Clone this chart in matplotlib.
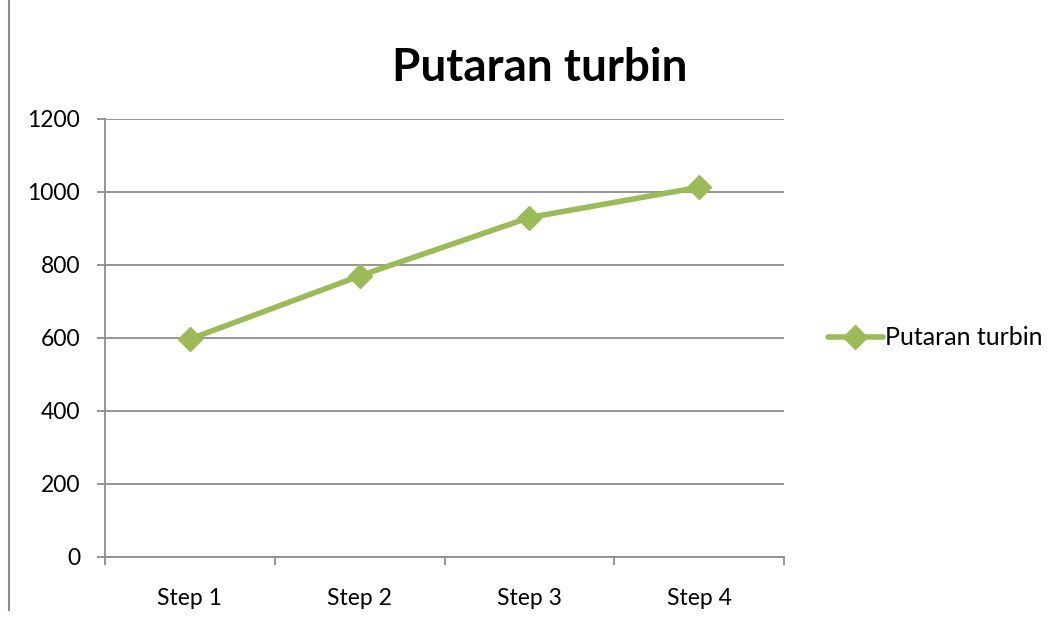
import matplotlib.pyplot as plt
from matplotlib.lines import Line2D

steps = ['Step 1', 'Step 2', 'Step 3', 'Step 4']
putaran = [597, 770, 930, 1013]
yticks = [0, 200, 400, 600, 800, 1000, 1200]

green = '#9BBB59'
grey = '#8c8c8c'

plt.rcParams['font.family'] = ['Lato', 'DejaVu Sans']

fig = plt.figure(figsize=(10.6, 6.21), dpi=100)
ax = fig.add_axes([0.0991, 0.1031, 0.6405, 0.7053])

x = list(range(len(steps)))
ax.plot(x, putaran, color=green, lw=4, marker='D', ms=12,
        label='Putaran turbin', solid_capstyle='round')

ax.set_xlim(-0.5, len(steps) - 0.5)
ax.set_ylim(0, 1200)
ax.set_yticks(yticks)
ax.set_yticklabels([str(v) for v in yticks], fontsize=16.5)
ax.set_xticks(x)
ax.set_xticklabels(steps, fontsize=16.5)
ax.set_xticks([i - 0.5 for i in range(len(steps) + 1)], minor=True)

ax.tick_params(axis='x', which='major', length=0, pad=22)
ax.tick_params(axis='x', which='minor', length=6, width=1.3, color=grey, direction='out')
ax.tick_params(axis='y', length=6, width=1.3, color=grey, pad=12)

ax.grid(axis='y', color=grey, lw=1.3)
ax.set_axisbelow(True)
for s in ['top', 'right']:
    ax.spines[s].set_visible(False)
for s in ['left', 'bottom']:
    ax.spines[s].set_color(grey)
    ax.spines[s].set_linewidth(1.3)

fig.text(540 / 1060, 1 - 68 / 621, 'Putaran turbin', fontsize=33, fontweight='bold',
         ha='center', va='center')

ax.legend(loc='center left', bbox_to_anchor=(1.05, 0.5), frameon=False,
          fontsize=18, handlelength=2.2, handletextpad=0.1, borderaxespad=0)

# left frame edge
fig.add_artist(Line2D([0.0085, 0.0085], [0.018, 1.0], color=grey, lw=1.5))

fig.savefig('out.png', dpi=100)
